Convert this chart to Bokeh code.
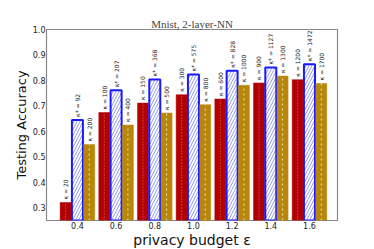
from bokeh.plotting import figure
from bokeh.models import ColumnDataSource, FixedTicker, Range1d
from bokeh.transform import dodge
from bokeh.core.properties import value
from bokeh.embed import file_html
from bokeh.resources import INLINE
import math

eps = [0.4, 0.6, 0.8, 1.0, 1.2, 1.4, 1.6]
eps_labels = ["0.4", "0.6", "0.8", "1.0", "1.2", "1.4", "1.6"]
acc_red = [0.321, 0.674, 0.711, 0.744, 0.727, 0.790, 0.803]
acc_blue = [0.645, 0.761, 0.804, 0.823, 0.838, 0.851, 0.864]
acc_gold = [0.548, 0.625, 0.672, 0.705, 0.781, 0.817, 0.788]
lab_red = ["κ = 20", "κ = 100", "κ = 150", "κ = 300", "κ = 600", "κ = 900", "κ = 1200"]
lab_blue = ["κ* = 92", "κ* = 207", "κ* = 368", "κ* = 575", "κ* = 828", "κ* = 1127", "κ* = 1472"]
lab_gold = ["κ = 200", "κ = 400", "κ = 500", "κ = 800", "κ = 1000", "κ = 1300", "κ = 1700"]
y_ticks = [0.3, 0.4, 0.5, 0.6, 0.7, 0.8, 0.9, 1.0]

src = ColumnDataSource(dict(eps=eps, red=acc_red, blue=acc_blue, gold=acc_gold,
                            lr=lab_red, lb=lab_blue, lg=lab_gold,
                            base=[0.25] * len(eps)))

p = figure(frame_width=291, frame_height=191, output_backend="svg", toolbar_location=None,
           x_range=Range1d(0.24, 1.745), y_range=Range1d(0.25, 1.0),
           min_border_left=46, min_border_right=29, min_border_top=29, min_border_bottom=26)
p.title.text = "Mnist, 2-layer-NN"
p.title.align = "center"
p.title.text_font = "Liberation Serif"
p.title.text_font_size = "11px"
p.title.text_font_style = "normal"
p.title.standoff = 0
p.title.offset = 0

off = 0.061
w = 0.057
p.vbar(x=dodge("eps", -off), top="red", bottom=0.25, width=w, source=src,
       fill_color="#b20000", line_color="#b20000", line_width=0.5)
p.vbar(x=dodge("eps", 0.0), top="blue", bottom=0.25, width=w, source=src,
       fill_color="white", line_color="#1a1aff", line_width=2,
       hatch_pattern="/", hatch_color="#7a84e8", hatch_scale=6, hatch_weight=0.8)
p.vbar(x=dodge("eps", off), top="gold", bottom=0.25, width=w, source=src,
       fill_color="#b8860b", line_color="#b8860b", line_width=0.5)

# faint dashed centre lines inside solid bars
p.segment(x0=dodge("eps", -off), x1=dodge("eps", -off), y0="base", y1="red", source=src,
          line_color="#e07070", line_dash="1 2", line_width=1)
p.segment(x0=dodge("eps", off), x1=dodge("eps", off), y0="base", y1="gold", source=src,
          line_color="#f0e0b0", line_dash="2 3", line_width=1)

common = dict(angle=math.pi / 2, text_align="left", text_baseline="middle",
              text_font=value("DejaVu Sans"), text_font_size="6px", text_color="#222222",
              y_offset=-3, source=src)
p.text(x=dodge("eps", -off), y="red", text="lr", **common)
p.text(x=dodge("eps", 0.0), y="blue", text="lb", **common)
p.text(x=dodge("eps", off), y="gold", text="lg", **common)

p.xaxis.ticker = FixedTicker(ticks=eps)
p.xaxis.major_label_overrides = {e: l for e, l in zip(eps, eps_labels)}
p.yaxis.ticker = FixedTicker(ticks=y_ticks)
p.yaxis.major_label_overrides = {t: f"{t:.1f}" for t in y_ticks}

for ax in (p.xaxis[0], p.yaxis[0]):
    ax.axis_line_color = None
    ax.major_tick_line_color = None
    ax.minor_tick_line_color = None
    ax.major_tick_out = 0
    ax.major_tick_in = 0
    ax.minor_tick_out = 0
    ax.major_label_text_font = "DejaVu Sans"
    ax.major_label_text_font_size = "8px"
    ax.major_label_text_color = "#222222"
    ax.axis_label_text_font = "DejaVu Sans"
    ax.axis_label_text_font_style = "normal"
    ax.axis_label_text_color = "#111111"
p.xaxis.major_label_standoff = 1
p.yaxis.major_label_standoff = 1
p.xaxis.axis_label = "privacy budget ε"
p.xaxis.axis_label_text_font_size = "14px"
p.xaxis.axis_label_standoff = 0
p.yaxis.axis_label = "Testing Accuracy"
p.yaxis.axis_label_text_font_size = "13px"
p.yaxis.axis_label_standoff = 1

p.xgrid.grid_line_color = None
p.ygrid.grid_line_color = None
p.outline_line_color = "#888888"
p.outline_line_width = 1.2
p.background_fill_color = "white"
p.border_fill_color = "white"

open("out.html", "w").write(file_html(p, INLINE))
